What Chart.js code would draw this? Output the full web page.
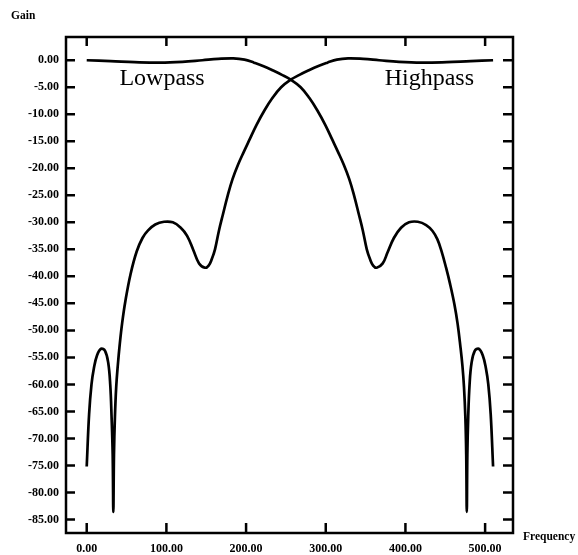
<!DOCTYPE html>
<html>
<head>
<meta charset="utf-8">
<script src="https://cdn.jsdelivr.net/npm/chart.js@4/dist/chart.umd.min.js"></script>
<style>
  html, body { margin: 0; padding: 0; background: #fff; }
  #wrap { position: relative; width: 578px; height: 555px; }
</style>
</head>
<body>
<div id="wrap"><canvas id="chart" width="578" height="555"></canvas></div>
<script>
// values (frequency bins, gain in dB)
const lowFreq = [0, 30, 60, 92, 120, 145, 165, 184, 198, 210, 222, 234, 245, 256, 268.5, 279.5, 289.5, 299.5, 308.5, 315.5, 322.5, 329.5, 335.5, 341.5, 346.5, 351.5, 355.5, 359.5, 364, 371.5, 377.5, 385.5, 394.5, 404.5, 415.5, 426, 434, 440, 445, 451, 456, 461.5, 465.5, 469, 471.5, 473.5, 475.2, 476.3, 477, 477.7, 478.8, 480.5, 483, 487, 492, 497, 501, 504, 507, 510]
const lowGain = [0.0, -0.15, -0.35, -0.45, -0.3, 0.0, 0.25, 0.35, 0.12, -0.45, -1.1, -1.9, -2.7, -3.6, -5.0, -7.0, -9.3, -12.0, -14.8, -17.0, -19.3, -22.0, -25.0, -28.5, -31.5, -35.0, -36.8, -38.0, -38.4, -37.6, -35.6, -32.9, -31.0, -30.0, -29.9, -30.5, -31.6, -33.1, -35.2, -38.4, -41.4, -45.2, -48.8, -53.0, -56.5, -60.5, -66.0, -73.0, -83.6, -73.0, -66.0, -60.0, -56.0, -53.8, -53.4, -54.6, -57.0, -60.0, -65.5, -75.2]

const highFreq = [0, 3, 6, 9, 13, 18, 23, 27, 29.5, 31.2, 32.6, 33.4, 34.2, 35.4, 37, 39, 41.5, 44.5, 48.5, 55, 62.7, 70, 77, 86, 97, 108, 118, 126, 134, 141, 148.5, 153, 157, 161, 166, 171, 177, 183, 190, 197, 204, 213, 223, 233, 244, 256, 267, 278, 290, 302, 314, 328, 347, 367, 392, 420, 452, 482, 510]
const highGain = [-75.2, -65.5, -60.0, -57.0, -54.6, -53.4, -53.8, -56.0, -60.0, -66.0, -73.0, -83.6, -73.0, -66.0, -60.5, -56.5, -52.5, -48.6, -44.6, -39.6, -35.4, -32.9, -31.5, -30.4, -29.9, -30.0, -31.0, -32.5, -35.2, -37.6, -38.4, -38.0, -36.8, -35.0, -31.5, -28.5, -25.0, -22.0, -19.3, -17.0, -14.8, -12.0, -9.3, -7.0, -5.0, -3.6, -2.7, -1.9, -1.1, -0.45, 0.12, 0.35, 0.25, 0.0, -0.3, -0.45, -0.35, -0.15, 0.0]

const xTicks = [0, 100, 200, 300, 400, 500]
const yTicks = [0, -5, -10, -15, -20, -25, -30, -35, -40, -45, -50, -55, -60, -65, -70, -75, -80, -85]

const seriesNames = ['Lowpass', 'Highpass']

const tick_font = { family: 'Liberation Serif', size: 12, weight: 'bold' }

function to_points(xs, ys) {
    return xs.map((x, i) => ({ x, y: ys[i] }))
}

// frame, inward tick marks, axis names and curve names
const frame_plugin = {
    id: 'frame',
    afterDraw(chart) {
        const { ctx, chartArea: a, scales } = chart
        ctx.save()
        ctx.strokeStyle = '#000'
        ctx.lineWidth = 2.5
        ctx.strokeRect(a.left, a.top, a.right - a.left, a.bottom - a.top)

        ctx.beginPath()
        scales.x.ticks.forEach(t => {
            const px = scales.x.getPixelForValue(t.value)
            ctx.moveTo(px, a.bottom); ctx.lineTo(px, a.bottom - 10)
            ctx.moveTo(px, a.top); ctx.lineTo(px, a.top + 9)
        })
        scales.y.ticks.forEach(t => {
            const py = scales.y.getPixelForValue(t.value)
            ctx.moveTo(a.left, py); ctx.lineTo(a.left + 9, py)
            ctx.moveTo(a.right, py); ctx.lineTo(a.right - 10, py)
        })
        ctx.stroke()

        ctx.fillStyle = '#000'
        ctx.font = 'bold 11.5px "Liberation Serif"'
        ctx.textBaseline = 'middle'
        ctx.textAlign = 'left'
        ctx.fillText('Gain', 11, 16)
        ctx.fillText('Frequency', 523, 537)

        ctx.font = '24px "Liberation Serif"'
        ctx.textBaseline = 'alphabetic'
        ctx.fillText(seriesNames[0], scales.x.getPixelForValue(41), scales.y.getPixelForValue(-4.6))
        ctx.fillText(seriesNames[1], scales.x.getPixelForValue(374), scales.y.getPixelForValue(-4.6))
        ctx.restore()
    }
}

const line_style = {
    borderColor: '#000',
    borderWidth: 2.7,
    pointRadius: 0,
    tension: 0.4,
}

new Chart(document.getElementById('chart'), {
    type: 'line',
    data: {
        datasets: [
            { label: seriesNames[0], data: to_points(lowFreq, lowGain), ...line_style },
            { label: seriesNames[1], data: to_points(highFreq, highGain), ...line_style },
        ]
    },
    options: {
        responsive: false,
        animation: false,
        layout: { padding: { left: 0, right: 65, top: 37, bottom: 0 } },
        plugins: {
            legend: { display: false },
            tooltip: { enabled: false },
        },
        scales: {
            x: {
                type: 'linear',
                min: -26,
                max: 535,
                afterBuildTicks: scale => { scale.ticks = xTicks.map(value => ({ value })) },
                afterFit: scale => { scale.height = 22 },
                grid: { display: false, drawTicks: false },
                border: { display: false },
                ticks: {
                    color: '#000',
                    font: tick_font,
                    padding: 9,
                    maxRotation: 0,
                    callback: value => Number(value).toFixed(2),
                },
            },
            y: {
                type: 'linear',
                min: -87.5,
                max: 4.3,
                afterBuildTicks: scale => { scale.ticks = yTicks.map(value => ({ value })) },
                afterFit: scale => { scale.width = 66 },
                grid: { display: false, drawTicks: false },
                border: { display: false },
                ticks: {
                    color: '#000',
                    font: tick_font,
                    padding: 7,
                    callback: value => Number(value).toFixed(2),
                },
            },
        },
    },
    plugins: [frame_plugin],
})
</script>
</body>
</html>
